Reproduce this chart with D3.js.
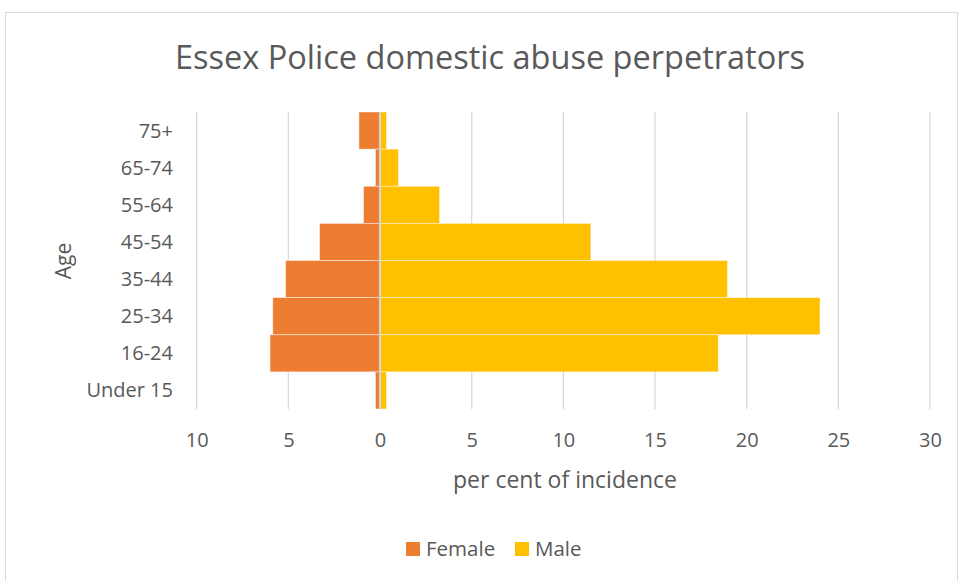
<!DOCTYPE html>
<html>
<head>
<meta charset="utf-8">
<script src="https://cdn.jsdelivr.net/npm/d3@7"></script>
<style>
  html, body { margin: 0; padding: 0; background: #fff; }
  svg { display: block; }
  text { font-family: "Open Sans", "Noto Sans", sans-serif; fill: #595959; }
</style>
</head>
<body>
<svg id="chart" width="959" height="581"></svg>
<script>
// ---- data ----
const categories = ["75+", "65-74", "55-64", "45-54", "35-44", "25-34", "16-24", "Under 15"];
const female = [1.15, 0.25, 0.9, 3.3, 5.15, 5.85, 6.0, 0.25];
const male = [0.35, 1.0, 3.25, 11.5, 18.95, 24.0, 18.45, 0.35];
const xTicks = [-10, -5, 0, 5, 10, 15, 20, 25, 30];
const seriesNames = ["Female", "Male"];
const seriesColors = ["#ED7D31", "#FFC000"];
const titleText = "Essex Police domestic abuse perpetrators";
const xTitle = "per cent of incidence";
const yTitle = "Age";

// ---- layout ----
const svg = d3.select("#chart");
const plot = { left: 196.7, right: 930, top: 112, bottom: 409 };

// chart frame
svg.append("rect")
  .attr("x", 5.5).attr("y", 12.5)
  .attr("width", 952).attr("height", 600)
  .attr("fill", "#fff").attr("stroke", "#d9d9d9").attr("stroke-width", 1);

const x = d3.scaleLinear().domain([-10, 30]).range([plot.left, plot.right]);
const y = d3.scaleBand().domain(categories).range([plot.top, plot.bottom]).padding(0);

// gridlines
svg.append("g").selectAll("line").data(xTicks).join("line")
  .attr("x1", d => x(d)).attr("x2", d => x(d))
  .attr("y1", plot.top).attr("y2", plot.bottom)
  .attr("stroke", "#d9d9d9").attr("stroke-width", 1.3);

// bars
const rows = categories.map((c, i) => ({ c, f: female[i], m: male[i] }));
svg.append("g").selectAll("rect").data(rows).join("rect")
  .attr("x", d => x(-d.f)).attr("width", d => x(0) - x(-d.f))
  .attr("y", d => y(d.c)).attr("height", y.bandwidth())
  .attr("fill", seriesColors[0])
  .attr("stroke", "#fff").attr("stroke-opacity", 0.6).attr("stroke-width", 0.75);
svg.append("g").selectAll("rect").data(rows).join("rect")
  .attr("x", x(0)).attr("width", d => x(d.m) - x(0))
  .attr("y", d => y(d.c)).attr("height", y.bandwidth())
  .attr("fill", seriesColors[1])
  .attr("stroke", "#fff").attr("stroke-opacity", 0.6).attr("stroke-width", 0.75);

// zero axis line
svg.append("line")
  .attr("x1", x(0)).attr("x2", x(0))
  .attr("y1", plot.top).attr("y2", plot.bottom)
  .attr("stroke", "#d4d4d4").attr("stroke-width", 2.2);

// x axis labels
const xAxis = d3.axisBottom(x).tickValues(xTicks).tickFormat(d => Math.abs(d)).tickSize(0).tickPadding(0);
const gx = svg.append("g").attr("transform", `translate(0,${plot.bottom})`).call(xAxis);
gx.select(".domain").remove();
gx.selectAll("text")
  .attr("y", 31).attr("dy", "0.35em")
  .style("font-size", "20px").style("fill", "#595959")
  .style("font-family", '"Open Sans", sans-serif');

// y axis labels
const yAxis = d3.axisLeft(y).tickSize(0).tickPadding(0);
const gy = svg.append("g").attr("transform", `translate(173,0)`).call(yAxis);
gy.select(".domain").remove();
gy.selectAll("text")
  .attr("x", 0).attr("dy", "0.35em")
  .style("font-size", "20px").style("fill", "#595959")
  .style("font-family", '"Open Sans", sans-serif');

// title
svg.append("text")
  .attr("x", 490).attr("y", 58).attr("dy", "0.35em")
  .attr("text-anchor", "middle")
  .style("font-size", "32.5px")
  .text(titleText);

// axis titles
svg.append("text")
  .attr("x", 565).attr("y", 480).attr("dy", "0.35em")
  .attr("text-anchor", "middle")
  .style("font-size", "23px")
  .text(xTitle);
svg.append("text")
  .attr("transform", "translate(64,261) rotate(-90)")
  .attr("dy", "0.35em")
  .attr("text-anchor", "middle")
  .style("font-size", "21px")
  .text(yTitle);

// legend
const legendPos = [406, 515];
const lg = svg.append("g");
seriesNames.forEach((name, i) => {
  lg.append("rect")
    .attr("x", legendPos[i]).attr("y", 542)
    .attr("width", 14).attr("height", 14)
    .attr("fill", seriesColors[i]);
  lg.append("text")
    .attr("x", legendPos[i] + 20).attr("y", 549).attr("dy", "0.35em")
    .style("font-size", "20.5px")
    .text(name);
});
</script>
</body>
</html>
